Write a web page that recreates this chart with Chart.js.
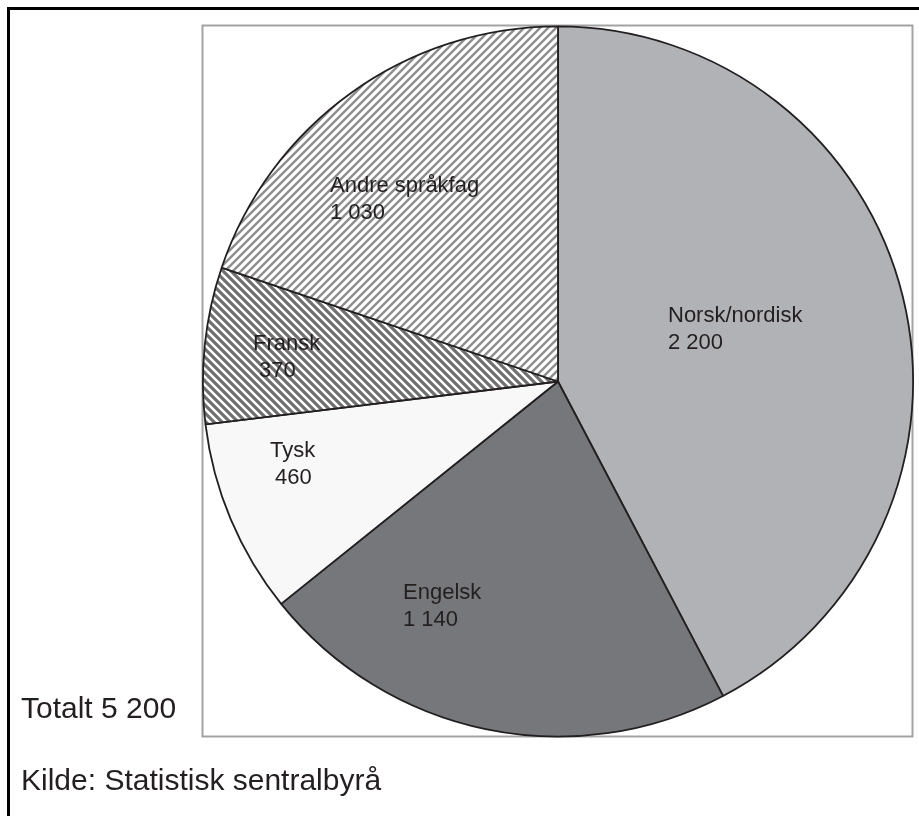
<!DOCTYPE html>
<html>
<head>
<meta charset="utf-8">
<script src="https://cdn.jsdelivr.net/npm/chart.js@4/dist/chart.umd.min.js"></script>
<style>
  html, body { margin: 0; padding: 0; background: #fff; }
  #wrap { width: 919px; height: 816px; }
</style>
</head>
<body>
<div id="wrap"><canvas id="pieChart" width="919" height="816"></canvas></div>
<script>
// data
const subjects = ["Norsk/nordisk", "Engelsk", "Tysk", "Fransk", "Andre språkfag"];
const students = [2200, 1140, 460, 370, 1030];
const valueLabels = ["2 200", "1 140", "460", "370", "1 030"];
const totalText = "Totalt 5 200";
const sourceText = "Kilde: Statistisk sentralbyrå";

// where each label sits (left x of line 1, line 2, baseline y)
const labelPos = [
  { x1: 668, x2: 668, y: 322 },
  { x1: 403, x2: 403, y: 599 },
  { x1: 270, x2: 275, y: 457 },
  { x1: 253, x2: 259, y: 350 },
  { x1: 330, x2: 330, y: 192 },
];

const ink = "#231f20";

// stripe pattern, dir "/" or "\"
function stripes(dir, color, lineW) {
  const c = document.createElement("canvas");
  c.width = 8;
  c.height = 8;
  const g = c.getContext("2d");
  g.fillStyle = "#ffffff";
  g.fillRect(0, 0, 8, 8);
  g.strokeStyle = color;
  g.lineWidth = lineW;
  g.beginPath();
  if (dir === "/") {
    g.moveTo(-2, 2); g.lineTo(2, -2);
    g.moveTo(0, 8); g.lineTo(8, 0);
    g.moveTo(6, 10); g.lineTo(10, 6);
  } else {
    g.moveTo(-2, 6); g.lineTo(2, 10);
    g.moveTo(0, 0); g.lineTo(8, 8);
    g.moveTo(6, -2); g.lineTo(10, 2);
  }
  g.stroke();
  return g.createPattern(c, "repeat");
}

const fills = [
  "#b1b2b5",
  "#76777a",
  "#f8f8f8",
  stripes("\\", "#707070", 3.2),
  stripes("/", "#8e8e8e", 2.4),
];

// frame, borders and texts
const decorPlugin = {
  id: "decor",
  beforeDatasetsDraw(chart) {
    const ctx = chart.ctx;
    ctx.save();
    ctx.strokeStyle = "#a3a3a3";
    ctx.lineWidth = 2;
    ctx.strokeRect(202.5, 25.5, 710, 711);
    ctx.strokeStyle = "#000";
    ctx.lineWidth = 3;
    ctx.beginPath();
    ctx.moveTo(8.5, 816);
    ctx.lineTo(8.5, 8.5);
    ctx.lineTo(919, 8.5);
    ctx.stroke();
    ctx.restore();
  },
  afterDatasetsDraw(chart) {
    const ctx = chart.ctx;
    ctx.save();
    ctx.fillStyle = ink;
    ctx.textAlign = "left";
    ctx.textBaseline = "alphabetic";
    ctx.font = '22px "Liberation Sans", Arial, sans-serif';
    subjects.forEach((name, i) => {
      const p = labelPos[i];
      ctx.fillText(name, p.x1, p.y);
      ctx.fillText(valueLabels[i], p.x2, p.y + 27);
    });
    ctx.font = '30px "Liberation Sans", Arial, sans-serif';
    ctx.fillText(totalText, 21, 718);
    ctx.fillText(sourceText, 21, 790);
    ctx.restore();
  },
};

new Chart(document.getElementById("pieChart"), {
  type: "pie",
  data: {
    labels: subjects,
    datasets: [
      {
        data: students,
        backgroundColor: fills,
        borderColor: ink,
        borderWidth: 1.8,
      },
    ],
  },
  options: {
    responsive: false,
    animation: false,
    devicePixelRatio: 1,
    layout: { padding: { left: 202, right: 5, top: 25, bottom: 78 } },
    plugins: {
      legend: { display: false },
      tooltip: { enabled: false },
    },
  },
  plugins: [decorPlugin],
});
</script>
</body>
</html>
